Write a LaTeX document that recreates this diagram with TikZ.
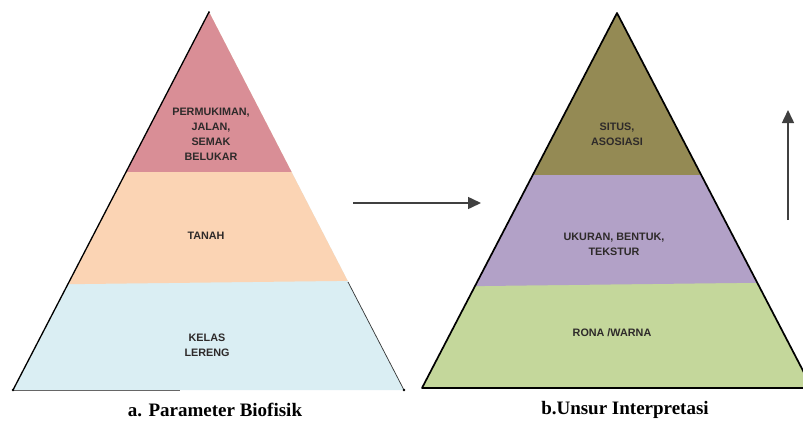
\documentclass[tikz,border=0pt]{standalone}
\usepackage{fontspec}
\setmainfont{Liberation Serif}
\newfontfamily\lblfont{Liberation Sans}
\usetikzlibrary{arrows.meta}
\definecolor{cpink}{HTML}{D98E96}
\definecolor{cpeach}{HTML}{FBD4B4}
\definecolor{cblue}{HTML}{DAEEF3}
\definecolor{colive}{HTML}{948A54}
\definecolor{cpurple}{HTML}{B2A1C7}
\definecolor{cgreen}{HTML}{C4D79B}
\definecolor{ctext}{HTML}{2E2A2A}
\tikzset{
  band/.style={font=\lblfont\bfseries\fontsize{10.8}{15}\selectfont, text=ctext, align=center, inner sep=0pt},
  caption/.style={font=\bfseries\fontsize{19}{21}\selectfont, inner sep=0pt},
  flow/.style={line width=1.5pt, black!75, -{Triangle[length=13pt,width=12pt]}}
}
\begin{document}
\begin{tikzpicture}[x=1pt,y=-1pt]
\useasboundingbox (0,0) rectangle (803,432);
\fill[white] (0,0) rectangle (803,432);
% ---- left pyramid ----
\coordinate (LA) at (209,12);
\coordinate (LL) at (13,390);
\coordinate (LR) at (404,390);
\begin{scope}
  \clip (LA) -- (LL) -- (LR) -- cycle;
  \fill[cblue] (0,0) rectangle (803,432);
  \fill[cpeach] (0,0) -- (420,0) -- (420,280) -- (0,285) -- cycle;
  \fill[cpink] (0,0) rectangle (420,172);
\end{scope}
\draw[line width=1.3pt] (LA) -- (LL);
\draw[line width=0.6pt, black!60] (LL) -- (180,390);
\draw[line width=0.7pt, black!80] (348,282) -- (LR);
\fill (LL) circle (1.3pt) (LR) circle (1.3pt) (LA) circle (1pt);
% ---- right pyramid ----
\coordinate (RA) at (617,13);
\coordinate (RL) at (422,388);
\coordinate (RR) at (812,388);
\begin{scope}
  \clip (RA) -- (RL) -- (RR) -- cycle;
  \fill[cgreen] (400,0) rectangle (820,432);
  \fill[cpurple] (400,0) -- (820,0) -- (820,282) -- (400,287) -- cycle;
  \fill[colive] (400,0) rectangle (820,175);
\end{scope}
\draw[line width=1.7pt, line join=round] (RA) -- (RL) -- (RR) -- cycle;
% ---- labels ----
\node[band] (permukiman) at (211,134) {PERMUKIMAN,\\JALAN,\\SEMAK\\BELUKAR};
\node[band] (tanah) at (206,236) {TANAH};
\node[band] (kelas) at (207,345) {KELAS\\LERENG};
\node[band] (situs) at (617,134) {SITUS,\\ASOSIASI};
\node[band] (ukuran) at (614,244) {UKURAN, BENTUK,\\TEKSTUR};
\node[band] (rona) at (612,333) {RONA /WARNA};
\node[caption] (capa) at (215,410) {a. Parameter Biofisik};
\node[caption] (capb) at (625,410) {b.Unsur Interpretasi};
% ---- arrows ----
\coordinate (h1) at (353,203);
\coordinate (h2) at (481,203);
\coordinate (v1) at (788,220);
\coordinate (v2) at (788,110);
\draw[flow] (h1) -- (h2);
\draw[flow] (v1) -- (v2);
\end{tikzpicture}
\end{document}
